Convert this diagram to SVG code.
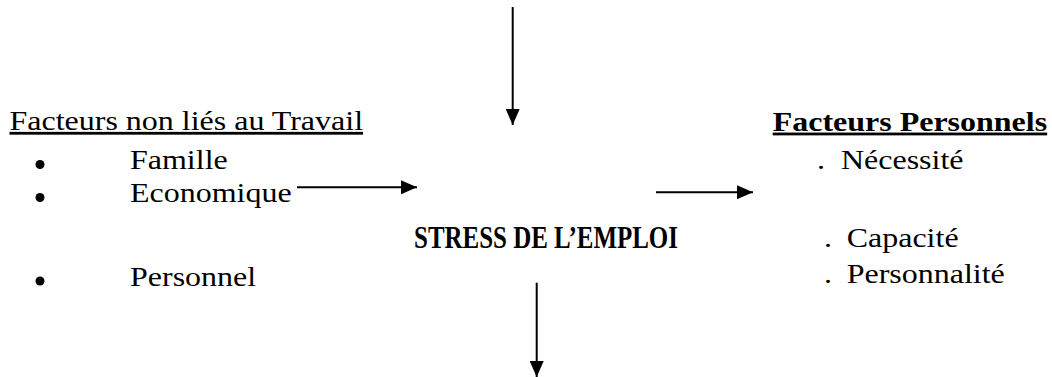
<svg xmlns="http://www.w3.org/2000/svg" width="1052" height="377" viewBox="0 0 1052 377">
<style>
text{font-family:"Liberation Serif","Times New Roman",serif;font-size:28px;fill:#000}
.b{font-weight:bold}
.u{text-decoration:underline}
.s{font-size:32px;font-weight:bold}
line{stroke:#000;stroke-width:2}
</style>
<defs>
<marker id="ah" viewBox="0 0 16 14" refX="16" refY="7" markerWidth="16" markerHeight="14" markerUnits="userSpaceOnUse" orient="auto">
<path d="M0,0 L16,7 L0,14 Z" fill="#000"/>
</marker>
</defs>
<rect width="1052" height="377" fill="#fff"/>
<g id="connectors">
<line x1="512.7" y1="7" x2="512.7" y2="125" marker-end="url(#ah)"/>
<line x1="297" y1="187.3" x2="417" y2="187.3" marker-end="url(#ah)"/>
<line x1="656" y1="192.3" x2="753" y2="192.3" marker-end="url(#ah)"/>
<line x1="536.7" y1="282.7" x2="536.7" y2="377" marker-end="url(#ah)"/>
</g>
<g id="non-travail">
<text transform="translate(9.5,130) scale(1.143,1)" class="u">Facteurs non liés au Travail</text>
<circle cx="40" cy="164.5" r="4.5"/>
<text transform="translate(130,169.3) scale(1.143,1)">Famille</text>
<circle cx="40" cy="197.5" r="4.5"/>
<text transform="translate(130,202) scale(1.143,1)">Economique</text>
<circle cx="40" cy="281" r="4.5"/>
<text transform="translate(130,285.7) scale(1.143,1)">Personnel</text>
</g>
<g id="stress">
<text transform="translate(414,247.5) scale(0.78,1)" class="s">STRESS DE L’EMPLOI</text>
</g>
<g id="personnels">
<text transform="translate(772.7,130.7) scale(1.143,1)" class="b u">Facteurs Personnels</text>
<text transform="translate(817,169) scale(1.143,1)">.</text>
<text transform="translate(841,169) scale(1.143,1)">Nécessité</text>
<text transform="translate(824,247) scale(1.143,1)">.</text>
<text transform="translate(846.7,247) scale(1.143,1)">Capacité</text>
<text transform="translate(824,283.3) scale(1.143,1)">.</text>
<text transform="translate(846.7,283.3) scale(1.143,1)">Personnalité</text>
</g>
</svg>
